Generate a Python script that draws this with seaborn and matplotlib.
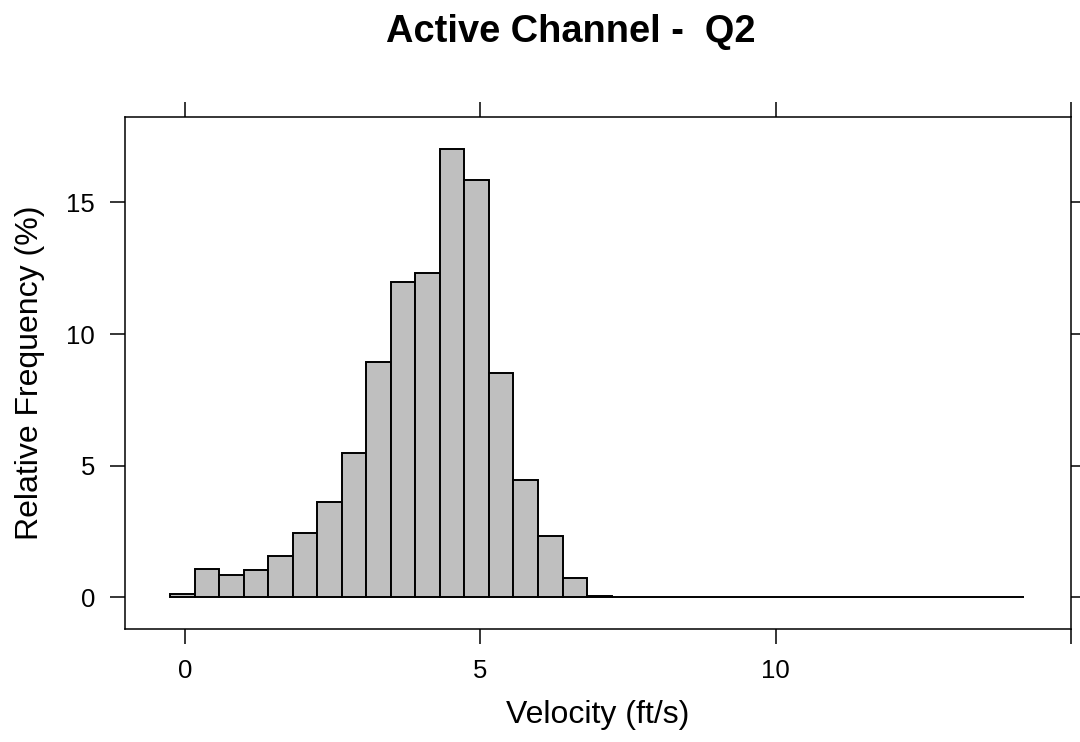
import numpy as np
import pandas as pd
import matplotlib
matplotlib.use("Agg")
import matplotlib.pyplot as plt
import seaborn as sns

# ---- data ----
title = "Active Channel -  Q2"
x_label = "Velocity (ft/s)"
y_label = "Relative Frequency (%)"

bin_start = -0.254
bin_width = 0.4152
bin_end = 14.208
rel_freq = [0.13, 1.09, 0.85, 1.04, 1.58, 2.43, 3.63, 5.48, 8.95, 11.96,
            12.32, 17.04, 15.86, 8.51, 4.44, 2.33, 0.75, 0.05,
            0, 0, 0, 0, 0, 0, 0, 0, 0, 0, 0, 0, 0, 0, 0, 0, 0]

x_ticks = [0, 5, 10, 15]
x_tick_labels = ["0", "5", "10", ""]
y_ticks = [0, 5, 10, 15]
y_tick_labels = ["0", "5", "10", "15"]

# ---- build bins ----
n_full = len(rel_freq) - 1
edges = [float(bin_start + bin_width * i) for i in range(n_full + 1)] + [bin_end]
centers = [(a + b) / 2 for a, b in zip(edges[:-1], edges[1:])]
df = pd.DataFrame({"velocity": centers, "freq": rel_freq})

sns.set_theme(style="white")
plt.rcParams["font.family"] = ["Liberation Sans", "DejaVu Sans"]

fig = plt.figure(figsize=(10.8, 7.42), dpi=100)
ax = fig.add_axes([125 / 1080, 1 - 629 / 742, (1071 - 125) / 1080, (629 - 117) / 742])

sns.histplot(data=df, x="velocity", weights="freq", bins=edges, stat="count",
             color="#BFBFBF", edgecolor="black", linewidth=1.4, alpha=1.0, ax=ax)

ax.set_xlim(-1.02, 15.0)
ax.set_ylim(-1.2, 18.24)

ax.set_xticks(x_ticks)
ax.set_xticklabels(x_tick_labels)
ax.set_yticks(y_ticks)
ax.set_yticklabels(y_tick_labels)

ax.tick_params(axis="both", which="major", direction="out", length=11, width=1.1,
               color="black", labelsize=18.5, pad=10.5, labelcolor="black",
               top=True, right=True, bottom=True, left=True,
               labeltop=False, labelright=False)

for s in ax.spines.values():
    s.set_visible(True)
    s.set_color("black")
    s.set_linewidth(1.1)

ax.set_xlabel(x_label, fontsize=23, color="black", labelpad=12)
ax.set_ylabel(y_label, fontsize=23, color="black", labelpad=15.5)
ax.grid(False)

fig.text(571 / 1080, 1 - 42 / 742, title, fontsize=27.4, fontweight="bold",
         ha="center", va="baseline", color="black")

fig.savefig("out.png", dpi=100, facecolor="white")
